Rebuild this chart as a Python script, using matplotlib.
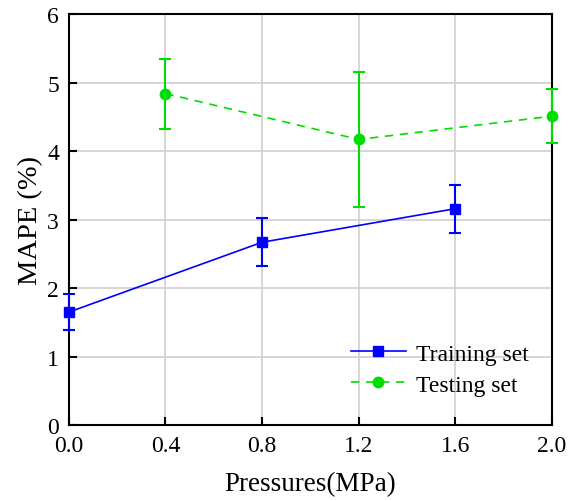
import matplotlib.pyplot as plt
from matplotlib.lines import Line2D

plt.rcParams['font.family'] = ['Liberation Serif', 'DejaVu Serif']

# Training set
train_x = [0.0, 0.8, 1.6]
train_y = [1.65, 2.67, 3.16]
train_lo = [1.39, 2.33, 2.81]
train_hi = [1.91, 3.02, 3.51]

# Testing set
test_x = [0.4, 1.2, 2.0]
test_y = [4.84, 4.17, 4.51]
test_lo = [4.32, 3.19, 4.12]
test_hi = [5.35, 5.15, 4.90]

x_ticks = [0.0, 0.4, 0.8, 1.2, 1.6, 2.0]
y_ticks = [0, 1, 2, 3, 4, 5, 6]

fig = plt.figure(figsize=(5.78, 5.02), dpi=100)
ax = fig.add_axes([0.119, 0.151, 0.836, 0.819])

train_err = [[y - lo for y, lo in zip(train_y, train_lo)],
             [hi - y for y, hi in zip(train_y, train_hi)]]
test_err = [[y - lo for y, lo in zip(test_y, test_lo)],
            [hi - y for y, hi in zip(test_y, test_hi)]]

blue = '#0000ff'
green = '#00dd00'

ax.errorbar(train_x, train_y, yerr=train_err, color=blue, marker='s', markersize=7.5,
            linewidth=1.2, elinewidth=1.5, capsize=4, capthick=1.5,
            clip_on=False, zorder=3)
ax.errorbar(test_x, test_y, yerr=test_err, color=green, marker='o', markersize=7.5,
            linestyle='--', dashes=(5, 4), linewidth=1.2, elinewidth=1.5, capsize=4,
            capthick=1.5, clip_on=False, zorder=3)

ax.set_xlim(0.0, 2.0)
ax.set_ylim(0, 6)
ax.set_xticks(x_ticks)
ax.set_yticks(y_ticks)
ax.set_xticklabels([f'{v:.1f}' for v in x_ticks])
ax.grid(True, color='#d0d0d0', linewidth=1.2)
ax.set_axisbelow(True)
ax.tick_params(direction='in', length=6, width=1.5, labelsize=17, pad=7)
for s in ax.spines.values():
    s.set_linewidth(1.5)

ax.set_xlabel('Pressures(MPa)', fontsize=19.5, labelpad=11)
ax.set_ylabel('MAPE (%)', fontsize=20.5, labelpad=3)

handles = [
    Line2D([], [], color=blue, marker='s', markersize=7.5, linewidth=1.2),
    Line2D([], [], color=green, marker='o', markersize=7.5, linestyle='--',
           dashes=(5, 4), linewidth=1.2),
]
ax.legend(handles, ['Training set', 'Testing set'], loc='lower right', frameon=False,
          fontsize=17, bbox_to_anchor=(0.995, 0.02), handlelength=2.35,
          handletextpad=0.4, labelspacing=0.4)

fig.savefig('out.png', dpi=100)
